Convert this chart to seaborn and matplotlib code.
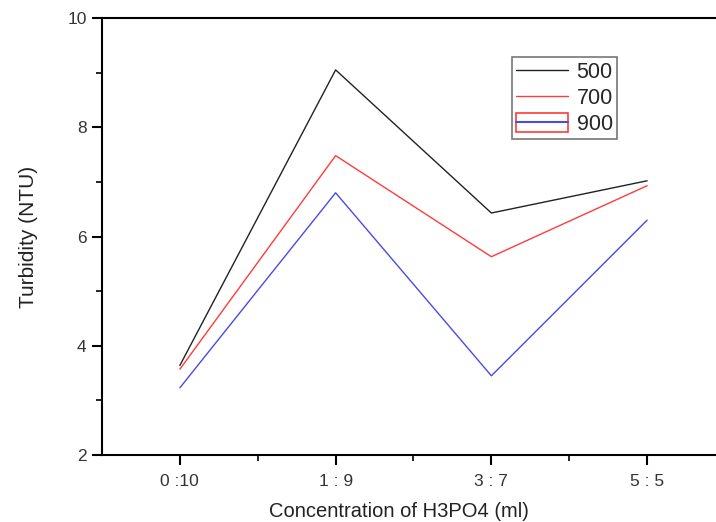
import pandas as pd
import seaborn as sns
import matplotlib.pyplot as plt
from matplotlib.lines import Line2D
from matplotlib.patches import Rectangle
from matplotlib.legend_handler import HandlerTuple

# data
ratios = ['0 :10', '1 : 9', '3 : 7', '5 : 5']
t500 = [3.64, 9.05, 6.43, 7.02]
t700 = [3.57, 7.48, 5.63, 6.93]
t900 = [3.23, 6.80, 3.45, 6.30]
series = ['500', '700', '900']

df = pd.DataFrame({
    'ratio': ratios * 3,
    'turbidity': t500 + t700 + t900,
    'series': [s for s in series for _ in ratios],
})

sns.set_style('white')
plt.rcParams['font.family'] = ['Liberation Sans', 'DejaVu Sans']

colors = {'500': '#222222', '700': '#ff3b3b', '900': '#4a4ae6'}

fig = plt.figure(figsize=(7.16, 5.22), dpi=100)
ax = fig.add_axes([102 / 716, 1 - 455 / 522, (725 - 102) / 716, (455 - 18) / 522])

sns.lineplot(data=df, x='ratio', y='turbidity', hue='series', palette=colors,
             linewidth=1.0, ax=ax, legend=False, sort=False)

ax.set_xlim(-0.5, 3.5)
ax.set_ylim(2, 10)
ax.set_yticks([2, 4, 6, 8, 10])
ax.set_yticks([3, 5, 7, 9], minor=True)
ax.set_xticks([0.5, 1.5, 2.5], minor=True)
ax.set_xticks(range(len(ratios)))
ax.set_xticklabels(ratios)

for sp in ax.spines.values():
    sp.set_color('black')
    sp.set_linewidth(1.5)
ax.spines['right'].set_visible(False)

ax.tick_params(which='both', bottom=True, left=True, top=False, right=False)
ax.tick_params(which='major', direction='out', length=7, width=1.5,
               labelsize=12.5, labelcolor='#333333', color='black', pad=4)
ax.tick_params(which='minor', direction='out', length=4, width=1.2, color='black')
ax.tick_params(axis='x', which='major', pad=7)

ax.set_xlabel('Concentration of H3PO4 (ml)', fontsize=14.5, color='#222222')
ax.xaxis.set_label_coords((399 - 102) / 623, -0.108)
ax.set_ylabel('Turbidity (NTU)', fontsize=15, color='#222222', labelpad=21)

# legend, with the odd boxed handle of the original for 900
h500 = Line2D([], [], color=colors['500'], lw=1.0)
h700 = Line2D([], [], color=colors['700'], lw=1.0)
h900 = (Rectangle((0, 0), 1, 1, facecolor='none', edgecolor='#ff3b3b', lw=1.2),
        Line2D([], [], color=colors['900'], lw=1.5))
leg = ax.legend([h500, h700, h900], series, loc='upper left',
                bbox_to_anchor=((512 - 102) / 623, 1 - (57 - 18) / 437),
                fontsize=15.5, frameon=True, fancybox=False, handlelength=2.4,
                handleheight=0.95, handletextpad=0.4, borderpad=0.2,
                labelspacing=0.2, borderaxespad=0,
                handler_map={tuple: HandlerTuple(ndivide=1)})
leg.get_frame().set_edgecolor('#555555')
leg.get_frame().set_linewidth(1.2)

fig.savefig('out.png', dpi=100)
